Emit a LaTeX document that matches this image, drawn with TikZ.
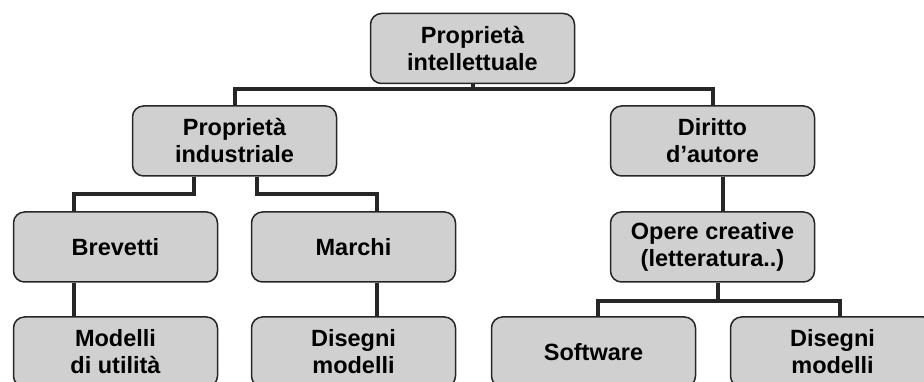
\documentclass[tikz,border=0pt]{standalone}
\usepackage{fontspec}
\setmainfont{Liberation Sans}
\definecolor{boxfill}{RGB}{208,208,208}
\definecolor{linegray}{RGB}{38,38,38}

\begin{document}
\begin{tikzpicture}[
        x=1pt, y=1pt,
        cell/.style={draw=linegray, line width=1.5pt, fill=boxfill, rounded corners=11pt,
            minimum width=204pt, minimum height=70pt, align=center,
            font=\fontsize{23.5}{27}\selectfont\bfseries}, % riquadri
        link/.style={draw=linegray, line width=4pt}, % collegamenti
    ]
    \clip (0,0) rectangle (924,382);

    % livelli dell'albero
    \node[cell] (prop) at (472.5,333.5) {Proprietà\\intellettuale};
    \node[cell] (ind) at (234.5,241) {Proprietà\\industriale};
    \node[cell] (aut) at (712.5,241) {Diritto\\d’autore};
    \node[cell] (brev) at (115.5,135) {Brevetti};
    \node[cell] (marchi) at (353.5,135) {Marchi};
    \node[cell] (opere) at (712.5,135) {Opere creative\\(letteratura..)};
    \node[cell] (modelli) at (115.5,30) {Modelli\\di utilità};
    \node[cell] (disA) at (353.5,30) {Disegni\\modelli};
    \node[cell] (soft) at (593.5,30) {Software};
    \node[cell] (disB) at (832.5,30) {Disegni\\modelli};

    % collegamenti
    \draw[link] (prop.south) -- ++(0,-5);
    \draw[link] (ind.north) |- ([yshift=-5pt]prop.south) -| (aut.north);
    \draw[link] ([xshift=-41pt]ind.south) -- ++(0,-17) -| ([xshift=-41.5pt]brev.north);
    \draw[link] ([xshift=22.5pt]ind.south) -- ++(0,-17) -| ([xshift=23.5pt]marchi.north);
    \draw[link] ([xshift=10.5pt]aut.south) -- ([xshift=10.5pt]opere.north);
    \draw[link] ([xshift=-41.5pt]brev.south) -- ([xshift=-41.5pt]modelli.north);
    \draw[link] ([xshift=23.5pt]marchi.south) -- ([xshift=23.5pt]disA.north);
    \draw[link] ([xshift=5.5pt]opere.south) -- ++(0,-18) coordinate (split);
    \draw[link] ([xshift=4.5pt]soft.north) |- (split) -| ([xshift=7.5pt]disB.north);
\end{tikzpicture}
\end{document}
